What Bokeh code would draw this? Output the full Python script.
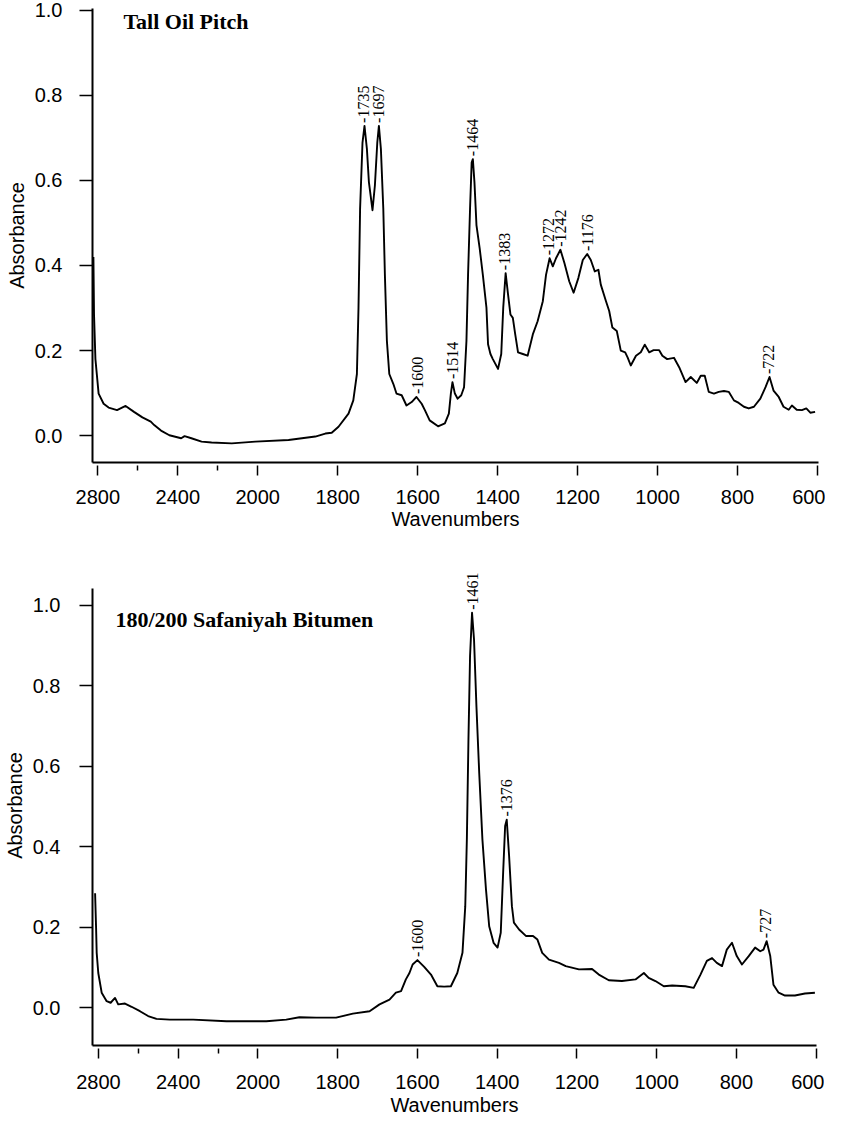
import numpy as np
from bokeh.plotting import figure
from bokeh.layouts import column
from bokeh.models import (FixedTicker, Label, LabelSet, ColumnDataSource, Range1d,
                          PrintfTickFormatter)
from bokeh.core.properties import value
from bokeh.embed import file_html
from bokeh.resources import INLINE

# ---------------- data ----------------
top_title = "Tall Oil Pitch"
top_wn = [2822, 2819, 2812, 2796, 2771, 2746, 2704, 2661, 2619, 2577, 2535, 2518, 2484, 2442,
          2383, 2366, 2332, 2281, 2231, 2130, 2012, 1923, 1856, 1831, 1815, 1798, 1773, 1761,
          1752, 1748, 1744, 1738, 1733, 1727, 1722, 1713, 1707, 1701, 1697, 1692, 1686, 1682,
          1677, 1671, 1661, 1653, 1640, 1628, 1615, 1603, 1590, 1582, 1570, 1549, 1532, 1522,
          1517, 1513, 1507, 1500, 1491, 1484, 1478, 1474, 1469, 1465, 1462, 1458, 1453, 1445,
          1437, 1428, 1424, 1418, 1412, 1399, 1391, 1386, 1380, 1374, 1368, 1362, 1356, 1349,
          1337, 1325, 1312, 1300, 1287, 1279, 1270, 1262, 1254, 1243, 1233, 1221, 1210, 1198,
          1187, 1176, 1167, 1157, 1148, 1142, 1129, 1121, 1113, 1102, 1092, 1081, 1075, 1067,
          1054, 1042, 1032, 1021, 1010, 996, 988, 976, 959, 946, 930, 917, 902, 892, 882, 872,
          859, 847, 834, 822, 809, 797, 784, 772, 759, 743, 730, 720, 710, 697, 685, 672, 664,
          652, 639, 628, 618, 606]
top_abs = [0.420, 0.285, 0.180, 0.099, 0.075, 0.066, 0.060, 0.070, 0.056, 0.043, 0.033, 0.025,
           0.012, 0.001, -0.006, -0.001, -0.006, -0.014, -0.016, -0.018, -0.014, -0.010, -0.002,
           0.005, 0.007, 0.021, 0.052, 0.083, 0.145, 0.301, 0.534, 0.689, 0.728, 0.674, 0.596,
           0.530, 0.588, 0.689, 0.728, 0.674, 0.534, 0.378, 0.223, 0.145, 0.122, 0.099, 0.095,
           0.071, 0.079, 0.091, 0.075, 0.060, 0.036, 0.022, 0.029, 0.052, 0.099, 0.126, 0.099,
           0.087, 0.095, 0.114, 0.223, 0.378, 0.534, 0.642, 0.650, 0.596, 0.495, 0.441, 0.378,
           0.301, 0.215, 0.192, 0.180, 0.157, 0.192, 0.301, 0.382, 0.332, 0.285, 0.277, 0.238,
           0.196, 0.192, 0.188, 0.238, 0.269, 0.316, 0.378, 0.417, 0.398, 0.417, 0.437, 0.406,
           0.363, 0.336, 0.371, 0.413, 0.427, 0.413, 0.386, 0.390, 0.355, 0.316, 0.293, 0.254,
           0.246, 0.200, 0.196, 0.184, 0.165, 0.188, 0.196, 0.214, 0.196, 0.201, 0.201, 0.188,
           0.180, 0.183, 0.161, 0.126, 0.138, 0.124, 0.141, 0.141, 0.103, 0.099, 0.103, 0.105,
           0.103, 0.083, 0.077, 0.068, 0.064, 0.068, 0.087, 0.114, 0.138, 0.106, 0.091, 0.068,
           0.061, 0.071, 0.061, 0.060, 0.064, 0.054, 0.056]
top_peak_wn = [1735, 1697, 1600, 1514, 1464, 1383, 1272, 1242, 1176, 722]
top_peak_abs = [0.728, 0.728, 0.091, 0.126, 0.650, 0.382, 0.417, 0.437, 0.427, 0.138]

bot_title = "180/200 Safaniyah Bitumen"
bot_wn = [2817, 2812, 2809, 2801, 2784, 2759, 2739, 2717, 2701, 2667, 2634, 2592, 2551, 2509,
          2442, 2325, 2158, 2058, 1979, 1929, 1896, 1854, 1804, 1762, 1720, 1695, 1670, 1654,
          1641, 1629, 1620, 1612, 1600, 1583, 1566, 1550, 1533, 1516, 1500, 1487, 1480, 1476,
          1472, 1468, 1463, 1458, 1452, 1445, 1437, 1428, 1420, 1409, 1399, 1391, 1385, 1380,
          1376, 1370, 1363, 1358, 1345, 1328, 1310, 1299, 1287, 1270, 1245, 1228, 1195, 1162,
          1145, 1120, 1087, 1053, 1032, 1020, 1003, 982, 961, 928, 907, 890, 874, 861, 849, 836,
          824, 811, 799, 786, 769, 753, 740, 732, 724, 715, 707, 694, 678, 653, 628, 603]
bot_abs = [0.285, 0.199, 0.137, 0.087, 0.038, 0.017, 0.013, 0.025, 0.009, 0.011, 0.003, -0.008,
           -0.020, -0.027, -0.029, -0.029, -0.033, -0.033, -0.033, -0.029, -0.023, -0.024,
           -0.024, -0.014, -0.008, 0.009, 0.021, 0.038, 0.042, 0.071, 0.087, 0.108, 0.119,
           0.102, 0.083, 0.054, 0.053, 0.054, 0.087, 0.137, 0.253, 0.419, 0.667, 0.874, 0.982,
           0.915, 0.750, 0.584, 0.419, 0.294, 0.203, 0.162, 0.150, 0.187, 0.336, 0.452, 0.468,
           0.377, 0.253, 0.212, 0.195, 0.179, 0.179, 0.170, 0.137, 0.120, 0.112, 0.104, 0.096,
           0.097, 0.083, 0.069, 0.067, 0.071, 0.087, 0.075, 0.067, 0.054, 0.056, 0.054, 0.050,
           0.083, 0.117, 0.124, 0.112, 0.104, 0.145, 0.162, 0.129, 0.108, 0.129, 0.150, 0.141,
           0.145, 0.166, 0.129, 0.058, 0.038, 0.031, 0.031, 0.036, 0.038]
bot_peak_wn = [1600, 1461, 1376, 727]
bot_peak_abs = [0.119, 0.982, 0.468, 0.166]

x_tick_wn = [2800, 2400, 2000, 1800, 1600, 1400, 1200, 1000, 800, 600]
x_minor_wn = [2600, 2200]
y_ticks = [0.0, 0.2, 0.4, 0.6, 0.8, 1.0]

# scale of the wavenumber axis is halved above the break
BREAK = 2000


def to_axis(wn):
    w = np.asarray(wn, dtype=float)
    return np.where(w > BREAK, BREAK + (w - BREAK) / 2.0, w)


SANS = "Liberation Sans"
SERIF = "Liberation Serif"


def make_fig(wn, ab, pk_wn, pk_ab, title, title_wn, title_y, xr, yr, ybounds, fw, fh,
             bl, bt, bb, xstand, xlstand, ystand):
    p = figure(frame_width=fw, frame_height=fh,
               x_range=Range1d(*xr), y_range=Range1d(*yr),
               output_backend="svg", toolbar_location=None,
               min_border_left=bl, min_border_right=8,
               min_border_top=bt, min_border_bottom=bb)
    p.outline_line_color = None
    p.xgrid.visible = False
    p.ygrid.visible = False
    p.background_fill_color = "white"
    p.border_fill_color = "white"

    src = ColumnDataSource(dict(u=to_axis(wn), a=np.asarray(ab, float)))
    p.line(x="u", y="a", source=src, line_color="black", line_width=1.9,
           line_join="round")

    lab = ColumnDataSource(dict(u=to_axis(pk_wn), a=np.asarray(pk_ab, float),
                                t=["-" + str(w) for w in pk_wn]))
    p.add_layout(LabelSet(x="u", y="a", text="t", source=lab, angle=np.pi / 2,
                          text_align="left", text_baseline="middle",
                          text_font=value(SERIF), text_font_size=value("16px"),
                          text_color="black", y_offset=3))

    p.add_layout(Label(x=float(to_axis([title_wn])[0]), y=title_y, text=title,
                       text_font=SERIF, text_font_style="bold",
                       text_font_size="22px", text_color="black",
                       text_align="left", text_baseline="alphabetic"))

    xa = p.xaxis[0]
    ya = p.yaxis[0]
    u_ticks = [int(v) for v in to_axis(x_tick_wn)]
    xa.ticker = FixedTicker(ticks=u_ticks,
                            minor_ticks=[int(v) for v in to_axis(x_minor_wn)])
    xa.major_label_overrides = {u: str(w) for u, w in zip(u_ticks, x_tick_wn)}
    xa.axis_label = "Wavenumbers"
    xa.major_tick_in = -3
    xa.major_tick_out = 13
    xa.minor_tick_in = -3
    xa.minor_tick_out = 8
    xa.major_label_standoff = xstand
    xa.axis_label_standoff = xlstand

    ya.ticker = FixedTicker(ticks=y_ticks)
    ya.formatter = PrintfTickFormatter(format="%.1f")
    ya.axis_label = "Absorbance"
    ya.bounds = ybounds
    ya.major_tick_in = 0
    ya.major_tick_out = 13
    ya.minor_tick_out = 0
    ya.major_label_standoff = ystand
    ya.axis_label_standoff = 4

    for ax in (xa, ya):
        ax.axis_line_width = 2
        ax.axis_line_color = "black"
        ax.major_tick_line_width = 1.5
        ax.major_tick_line_color = "black"
        ax.minor_tick_line_width = 1.5
        ax.minor_tick_line_color = "black"
        ax.major_label_text_font = SANS
        ax.major_label_text_font_size = "20px"
        ax.major_label_text_color = "black"
        ax.axis_label_text_font = SANS
        ax.axis_label_text_font_size = "20px"
        ax.axis_label_text_font_style = "normal"
        ax.axis_label_text_color = "black"
    return p


p1 = make_fig(top_wn, top_abs, top_peak_wn, top_peak_abs, top_title, 2672, 0.973,
              (2413.3, 597.5), (-0.063, 1.004), (-0.063, 1.004), 726, 454,
              91, 8, 75, 14, 1, 17)
p2 = make_fig(bot_wn, bot_abs, bot_peak_wn, bot_peak_abs, bot_title, 2715, 0.9645,
              (2415, 599), (-0.0932, 1.0993), (-0.0932, 1.0415), 724, 480,
              86, 28, 0, 16, 2, 19)

layout = column(p1, p2)
open("out.html", "w").write(file_html(layout, INLINE))
